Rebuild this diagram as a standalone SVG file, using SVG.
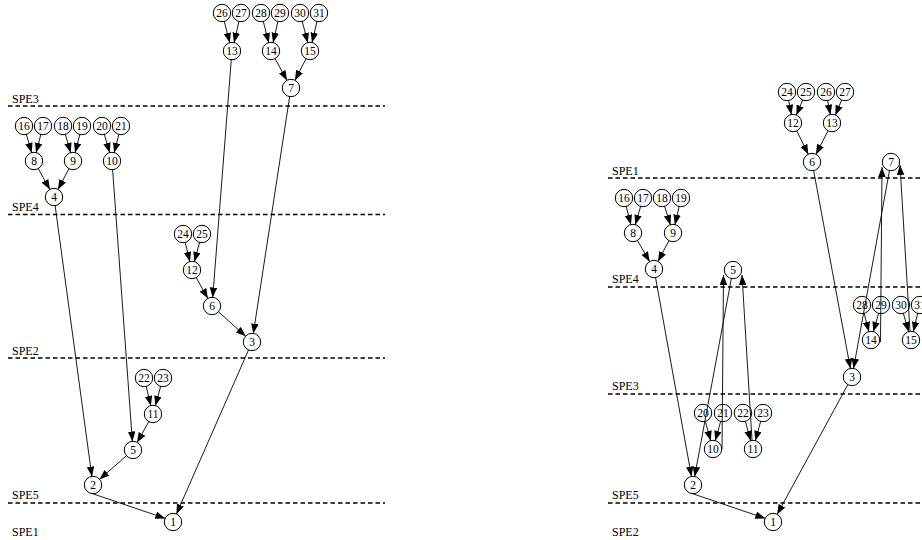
<svg xmlns="http://www.w3.org/2000/svg" width="922" height="540" viewBox="0 0 922 540">
<style>
.lane{stroke:#000;stroke-width:1.5;stroke-dasharray:4.5,3;fill:none}
.lbl{font-family:"Liberation Serif","Times New Roman",serif;font-size:12px;fill:#000}
.n circle{fill:#fff;stroke:#000;stroke-width:1}
.n text{font-family:"Liberation Serif","Times New Roman",serif;font-size:11.5px;fill:#000;text-anchor:middle}
#edges line{stroke:#000;stroke-width:0.9;marker-end:url(#ah)}
</style>
<defs>
<marker id="ah" markerUnits="userSpaceOnUse" markerWidth="11" markerHeight="8" refX="10" refY="3.75" orient="auto">
<path d="M0,0 L10,3.75 L0,7.5 z" fill="#000"/>
</marker>
</defs>
<rect width="922" height="540" fill="#fff"/>
<g id="lanes">
<line class="lane" x1="8" y1="106" x2="385" y2="106"/>
<line class="lane" x1="8" y1="214.5" x2="385" y2="214.5"/>
<line class="lane" x1="8" y1="358" x2="385" y2="358"/>
<line class="lane" x1="8" y1="503" x2="385" y2="503"/>
<line class="lane" x1="608" y1="178" x2="922" y2="178"/>
<line class="lane" x1="608" y1="287" x2="922" y2="287"/>
<line class="lane" x1="608" y1="394" x2="922" y2="394"/>
<line class="lane" x1="608" y1="503" x2="922" y2="503"/>
<text class="lbl" x="12" y="102.5">SPE3</text>
<text class="lbl" x="12" y="211">SPE4</text>
<text class="lbl" x="12" y="354.5">SPE2</text>
<text class="lbl" x="12" y="499">SPE5</text>
<text class="lbl" x="12" y="535.5">SPE1</text>
<text class="lbl" x="612" y="174.5">SPE1</text>
<text class="lbl" x="612" y="283">SPE4</text>
<text class="lbl" x="612" y="390">SPE3</text>
<text class="lbl" x="612" y="499">SPE5</text>
<text class="lbl" x="612" y="535.5">SPE2</text>
</g>
<g id="L26" class="n"><circle cx="222" cy="13" r="8.7"/><text x="222" y="17">26</text></g>
<g id="L27" class="n"><circle cx="241" cy="13" r="8.7"/><text x="241" y="17">27</text></g>
<g id="L28" class="n"><circle cx="261" cy="13" r="8.7"/><text x="261" y="17">28</text></g>
<g id="L29" class="n"><circle cx="280" cy="13" r="8.7"/><text x="280" y="17">29</text></g>
<g id="L30" class="n"><circle cx="300" cy="13" r="8.7"/><text x="300" y="17">30</text></g>
<g id="L31" class="n"><circle cx="319" cy="13" r="8.7"/><text x="319" y="17">31</text></g>
<g id="L13" class="n"><circle cx="232" cy="51" r="8.7"/><text x="232" y="55">13</text></g>
<g id="L14" class="n"><circle cx="271" cy="51" r="8.7"/><text x="271" y="55">14</text></g>
<g id="L15" class="n"><circle cx="310" cy="51" r="8.7"/><text x="310" y="55">15</text></g>
<g id="L7" class="n"><circle cx="291" cy="88" r="8.7"/><text x="291" y="92">7</text></g>
<g id="L16" class="n"><circle cx="24" cy="126" r="8.7"/><text x="24" y="130">16</text></g>
<g id="L17" class="n"><circle cx="43" cy="126" r="8.7"/><text x="43" y="130">17</text></g>
<g id="L18" class="n"><circle cx="63" cy="126" r="8.7"/><text x="63" y="130">18</text></g>
<g id="L19" class="n"><circle cx="82" cy="126" r="8.7"/><text x="82" y="130">19</text></g>
<g id="L20" class="n"><circle cx="102" cy="126" r="8.7"/><text x="102" y="130">20</text></g>
<g id="L21" class="n"><circle cx="121" cy="126" r="8.7"/><text x="121" y="130">21</text></g>
<g id="L8" class="n"><circle cx="34" cy="161" r="8.7"/><text x="34" y="165">8</text></g>
<g id="L9" class="n"><circle cx="73" cy="161" r="8.7"/><text x="73" y="165">9</text></g>
<g id="L10" class="n"><circle cx="112" cy="161" r="8.7"/><text x="112" y="165">10</text></g>
<g id="L4" class="n"><circle cx="54" cy="197" r="8.7"/><text x="54" y="201">4</text></g>
<g id="L24" class="n"><circle cx="183" cy="234" r="8.7"/><text x="183" y="238">24</text></g>
<g id="L25" class="n"><circle cx="202" cy="234" r="8.7"/><text x="202" y="238">25</text></g>
<g id="L12" class="n"><circle cx="192" cy="270" r="8.7"/><text x="192" y="274">12</text></g>
<g id="L6" class="n"><circle cx="212" cy="306" r="8.7"/><text x="212" y="310">6</text></g>
<g id="L3" class="n"><circle cx="252" cy="342" r="8.7"/><text x="252" y="346">3</text></g>
<g id="L22" class="n"><circle cx="144" cy="378" r="8.7"/><text x="144" y="382">22</text></g>
<g id="L23" class="n"><circle cx="163" cy="378" r="8.7"/><text x="163" y="382">23</text></g>
<g id="L11" class="n"><circle cx="153" cy="414" r="8.7"/><text x="153" y="418">11</text></g>
<g id="L5" class="n"><circle cx="133" cy="450" r="8.7"/><text x="133" y="454">5</text></g>
<g id="L2" class="n"><circle cx="93" cy="485" r="8.7"/><text x="93" y="489">2</text></g>
<g id="L1" class="n"><circle cx="173" cy="522" r="8.7"/><text x="173" y="526">1</text></g>
<g id="R24" class="n"><circle cx="787" cy="92" r="8.7"/><text x="787" y="96">24</text></g>
<g id="R25" class="n"><circle cx="806" cy="92" r="8.7"/><text x="806" y="96">25</text></g>
<g id="R26" class="n"><circle cx="826" cy="92" r="8.7"/><text x="826" y="96">26</text></g>
<g id="R27" class="n"><circle cx="845" cy="92" r="8.7"/><text x="845" y="96">27</text></g>
<g id="R12" class="n"><circle cx="793" cy="123" r="8.7"/><text x="793" y="127">12</text></g>
<g id="R13" class="n"><circle cx="832" cy="123" r="8.7"/><text x="832" y="127">13</text></g>
<g id="R6" class="n"><circle cx="812" cy="162" r="8.7"/><text x="812" y="166">6</text></g>
<g id="R7" class="n"><circle cx="891" cy="162" r="8.7"/><text x="891" y="166">7</text></g>
<g id="R16" class="n"><circle cx="624" cy="198" r="8.7"/><text x="624" y="202">16</text></g>
<g id="R17" class="n"><circle cx="643" cy="198" r="8.7"/><text x="643" y="202">17</text></g>
<g id="R18" class="n"><circle cx="662" cy="198" r="8.7"/><text x="662" y="202">18</text></g>
<g id="R19" class="n"><circle cx="681" cy="198" r="8.7"/><text x="681" y="202">19</text></g>
<g id="R8" class="n"><circle cx="633" cy="233" r="8.7"/><text x="633" y="237">8</text></g>
<g id="R9" class="n"><circle cx="673" cy="233" r="8.7"/><text x="673" y="237">9</text></g>
<g id="R4" class="n"><circle cx="654" cy="269" r="8.7"/><text x="654" y="273">4</text></g>
<g id="R5" class="n"><circle cx="733" cy="270" r="8.7"/><text x="733" y="274">5</text></g>
<g id="R28" class="n"><circle cx="862" cy="305" r="8.7"/><text x="862" y="309">28</text></g>
<g id="R29" class="n"><circle cx="881" cy="305" r="8.7"/><text x="881" y="309">29</text></g>
<g id="R30" class="n"><circle cx="901" cy="305" r="8.7"/><text x="901" y="309">30</text></g>
<g id="R31" class="n"><circle cx="920" cy="305" r="8.7"/><text x="920" y="309">31</text></g>
<g id="R14" class="n"><circle cx="871" cy="340" r="8.7"/><text x="871" y="344">14</text></g>
<g id="R15" class="n"><circle cx="911" cy="340" r="8.7"/><text x="911" y="344">15</text></g>
<g id="R3" class="n"><circle cx="852" cy="377" r="8.7"/><text x="852" y="381">3</text></g>
<g id="R20" class="n"><circle cx="703" cy="413" r="8.7"/><text x="703" y="417">20</text></g>
<g id="R21" class="n"><circle cx="723" cy="413" r="8.7"/><text x="723" y="417">21</text></g>
<g id="R22" class="n"><circle cx="743" cy="413" r="8.7"/><text x="743" y="417">22</text></g>
<g id="R23" class="n"><circle cx="763" cy="413" r="8.7"/><text x="763" y="417">23</text></g>
<g id="R10" class="n"><circle cx="713" cy="449" r="8.7"/><text x="713" y="453">10</text></g>
<g id="R11" class="n"><circle cx="753" cy="449" r="8.7"/><text x="753" y="453">11</text></g>
<g id="R2" class="n"><circle cx="693" cy="485" r="8.7"/><text x="693" y="489">2</text></g>
<g id="R1" class="n"><circle cx="773" cy="522" r="8.7"/><text x="773" y="526">1</text></g>
<g id="edges">
<line x1="224.2" y1="21.2" x2="229.8" y2="42.8"/>
<line x1="239" y1="21.3" x2="234" y2="42.7"/>
<line x1="263.2" y1="21.2" x2="268.8" y2="42.8"/>
<line x1="278" y1="21.3" x2="273" y2="42.7"/>
<line x1="302.2" y1="21.2" x2="307.8" y2="42.8"/>
<line x1="317" y1="21.3" x2="312" y2="42.7"/>
<line x1="275" y1="58.5" x2="287" y2="80.5"/>
<line x1="306.1" y1="58.6" x2="294.9" y2="80.4"/>
<line x1="231.3" y1="59.5" x2="212.7" y2="297.5"/>
<line x1="289.7" y1="96.4" x2="253.3" y2="333.6"/>
<line x1="26.3" y1="134.2" x2="31.7" y2="152.8"/>
<line x1="40.9" y1="134.2" x2="36.1" y2="152.8"/>
<line x1="65.3" y1="134.2" x2="70.7" y2="152.8"/>
<line x1="79.9" y1="134.2" x2="75.1" y2="152.8"/>
<line x1="104.3" y1="134.2" x2="109.7" y2="152.8"/>
<line x1="118.9" y1="134.2" x2="114.1" y2="152.8"/>
<line x1="38.1" y1="168.4" x2="49.9" y2="189.6"/>
<line x1="69" y1="168.5" x2="58" y2="189.5"/>
<line x1="55.1" y1="205.4" x2="91.9" y2="476.6"/>
<line x1="112.6" y1="169.5" x2="132.4" y2="441.5"/>
<line x1="185.1" y1="242.2" x2="189.9" y2="261.8"/>
<line x1="199.7" y1="242.2" x2="194.3" y2="261.8"/>
<line x1="196.1" y1="277.4" x2="207.9" y2="298.6"/>
<line x1="218.3" y1="311.7" x2="245.7" y2="336.3"/>
<line x1="248.6" y1="349.8" x2="176.4" y2="514.2"/>
<line x1="146.1" y1="386.2" x2="150.9" y2="405.8"/>
<line x1="160.7" y1="386.2" x2="155.3" y2="405.8"/>
<line x1="148.9" y1="421.4" x2="137.1" y2="442.6"/>
<line x1="126.6" y1="455.6" x2="99.4" y2="479.4"/>
<line x1="92" y1="493.5" x2="165.3" y2="518.4"/>
<line x1="788.6" y1="100.3" x2="791.4" y2="114.7"/>
<line x1="802.7" y1="99.8" x2="796.3" y2="115.2"/>
<line x1="827.6" y1="100.3" x2="830.4" y2="114.7"/>
<line x1="841.7" y1="99.8" x2="835.3" y2="115.2"/>
<line x1="796.7" y1="130.6" x2="808.3" y2="154.4"/>
<line x1="828.1" y1="130.6" x2="815.9" y2="154.4"/>
<line x1="813.6" y1="170.4" x2="850.4" y2="368.6"/>
<line x1="626.1" y1="206.2" x2="630.9" y2="224.8"/>
<line x1="640.7" y1="206.2" x2="635.3" y2="224.8"/>
<line x1="664.5" y1="206.1" x2="670.5" y2="224.9"/>
<line x1="679.1" y1="206.3" x2="674.9" y2="224.7"/>
<line x1="637.3" y1="240.3" x2="649.7" y2="261.7"/>
<line x1="669" y1="240.5" x2="658" y2="261.5"/>
<line x1="655.5" y1="277.4" x2="691.5" y2="476.6"/>
<line x1="731.4" y1="278.3" x2="694.6" y2="476.7"/>
<line x1="722" y1="449" x2="723.5" y2="275"/>
<line x1="752" y1="440" x2="742" y2="275"/>
<line x1="705.3" y1="421.2" x2="710.7" y2="440.8"/>
<line x1="720.7" y1="421.2" x2="715.3" y2="440.8"/>
<line x1="745.3" y1="421.2" x2="750.7" y2="440.8"/>
<line x1="760.7" y1="421.2" x2="755.3" y2="440.8"/>
<line x1="692" y1="493.5" x2="765.3" y2="518.4"/>
<line x1="847.9" y1="384.5" x2="777.1" y2="514.5"/>
<line x1="889.5" y1="170.4" x2="853.5" y2="368.6"/>
<line x1="880.5" y1="342" x2="882" y2="167"/>
<line x1="910" y1="331.5" x2="900" y2="165"/>
<line x1="864.1" y1="313.2" x2="868.9" y2="331.8"/>
<line x1="878.7" y1="313.2" x2="873.3" y2="331.8"/>
<line x1="903.3" y1="313.2" x2="908.7" y2="331.8"/>
<line x1="917.7" y1="313.2" x2="913.3" y2="331.8"/>
</g>
</svg>
